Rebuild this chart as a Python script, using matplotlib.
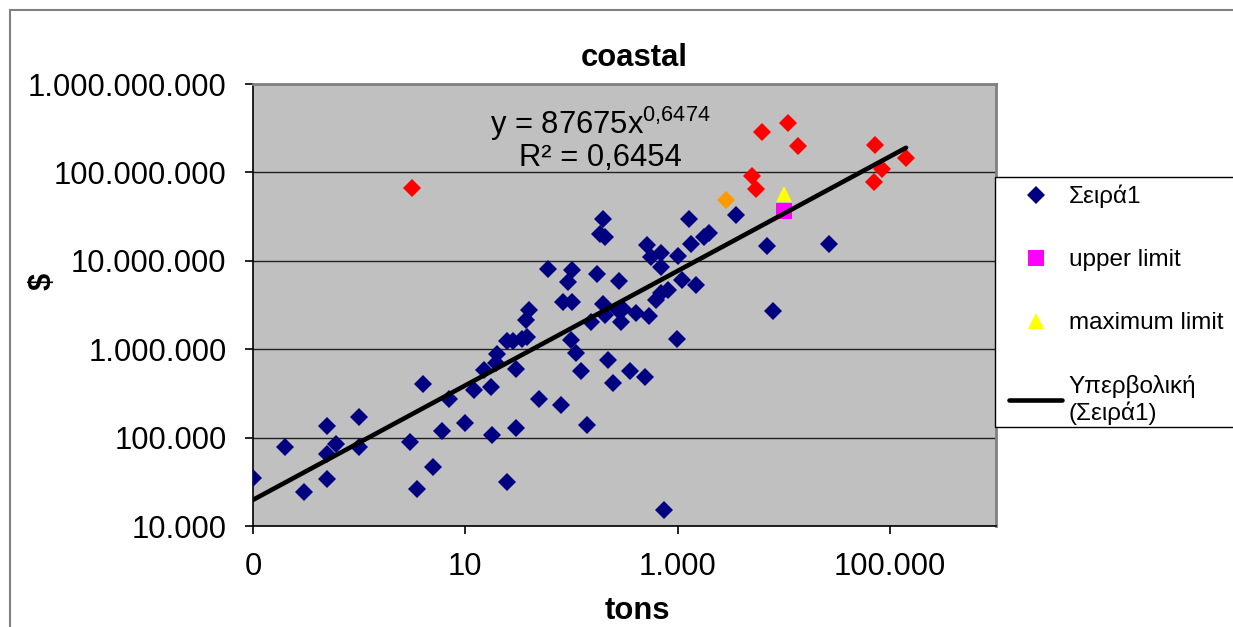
import numpy as np
import matplotlib
matplotlib.use("Agg")
import matplotlib.pyplot as plt
from matplotlib.patches import Rectangle

plt.rcParams['font.family'] = ['Liberation Sans', 'DejaVu Sans']
plt.rcParams['mathtext.fontset'] = 'custom'
plt.rcParams['mathtext.rm'] = 'Liberation Sans'
plt.rcParams['mathtext.default'] = 'regular'

# Σειρά1 (blue diamonds): tons, $
tons_blue = [0.1, 0.2, 0.30, 0.5, 0.5, 0.5, 0.6, 1.0, 1.0, 3.0, 3.5, 4.0, 5.0, 6.0, 7.0,
             10, 12, 15, 17.6, 18, 19.5, 20, 24.9, 24.5, 28, 30, 30, 34.4, 38, 37, 39.7,
             49, 60, 79, 83, 93, 101, 102, 99.6, 111, 124, 140, 154, 175, 197, 184, 205,
             197, 205, 219, 249, 279, 273, 305, 294, 407, 535, 357, 498, 740, 984, 514,
             563, 700, 700, 1000, 628, 700, 807, 1100, 1270, 1340, 1490, 1790, 1990,
             3550, 6950, 7850, 26800]
usd_blue = [34600, 78700, 24400, 136000, 65100, 33700, 83800, 172000, 77400, 89700, 26000,
            399000, 46800, 119000, 270000, 147000, 344000, 579000, 372000, 107000, 700000,
            873000, 31700, 1.24e6, 1.24e6, 590000, 130000, 1.29e6, 1.37e6, 2.13e6, 2.81e6,
            270000, 8.17e6, 233000, 3.42e6, 5.75e6, 7.81e6, 3.42e6, 1.27e6, 902000, 569000,
            138000, 2.03e6, 7.03e6, 3.0e7, 2.03e7, 1.86e7, 3.22e6, 2.42e6, 760000, 416000,
            5.92e6, 2.76e6, 2.88e6, 2.03e6, 2.58e6, 2.36e6, 569000, 487000, 15200, 1.29e6,
            1.50e7, 1.10e7, 1.22e7, 8.51e6, 1.12e7, 3.58e6, 4.35e6, 4.73e6, 6.13e6, 3.0e7,
            1.55e7, 5.28e6, 1.86e7, 2.06e7, 3.27e7, 1.46e7, 2.71e6, 1.54e7]

# highlighted points of Σειρά1
tons_red = [3.18, 5020, 5480, 6190, 10900, 13500, 72600, 84000, 71400, 142000]
usd_red = [6.71e7, 9.02e7, 6.55e7, 2.85e8, 3.61e8, 1.97e8, 2.02e8, 1.10e8, 7.77e7, 1.47e8]
tons_orange = [2860]
usd_orange = [4.92e7]

tons_upper = [10000]
usd_upper = [3.66e7]
tons_max = [10000]
usd_max = [5.74e7]

# power trendline y = a * x^b
trend_a = 87675
trend_b = 0.6474
trend_x = [0.1, 142000]

x_ticks = [0.1, 10, 1000, 100000]
x_labels = ['0', '10', '1.000', '100.000']
y_ticks = [1e4, 1e5, 1e6, 1e7, 1e8, 1e9]
y_labels = ['10.000', '100.000', '1.000.000', '10.000.000', '100.000.000', '1.000.000.000']

FS = 22.3

W, H = 1233, 627
fig = plt.figure(figsize=(W / 100, H / 100), dpi=100)
fig.patch.set_facecolor('white')
# outer chart frame (runs off the right and bottom edges)
fig.patches.append(Rectangle((10 / W, -0.1), 1.2, 1 - 10 / H + 0.1, transform=fig.transFigure,
                             fill=False, edgecolor='#808080', lw=1.5))

ax = fig.add_axes([253 / W, (H - 526) / H, (996 - 253) / W, (526 - 84) / H])
ax.set_facecolor('#C0C0C0')
ax.set_xscale('log')
ax.set_yscale('log')
ax.set_xlim(0.1, 1e6)
ax.set_ylim(1e4, 1e9)

ax.set_yticks(y_ticks)
ax.set_yticklabels(y_labels)
ax.set_xticks(x_ticks)
ax.set_xticklabels(x_labels)
ax.minorticks_off()
ax.tick_params(axis='both', labelsize=FS, length=6, width=1.2, direction='out', pad=13)
ax.yaxis.grid(True, color='#202020', lw=1)
ax.set_axisbelow(True)

for s in ['top', 'right']:
    ax.spines[s].set_color('#808080')
    ax.spines[s].set_linewidth(2)
for s in ['left', 'bottom']:
    ax.spines[s].set_color('black')
    ax.spines[s].set_linewidth(1.2)

tx = np.array(trend_x)
ax.plot(tx, trend_a * tx ** trend_b, color='black', lw=3.3, solid_capstyle='round', zorder=4,
        label='Υπερβολική\n(Σειρά1)')

ax.plot(tons_blue, usd_blue, ls='', marker='D', ms=9.5, color='#000080', mew=0, zorder=3,
        label='Σειρά1')
ax.plot(tons_red, usd_red, ls='', marker='D', ms=9, color='#FF0000', mew=0, zorder=3)
ax.plot(tons_orange, usd_orange, ls='', marker='D', ms=9, color='#FF9900', mew=0, zorder=3)
ax.plot(tons_upper, usd_upper, ls='', marker='s', ms=11.5, color='#FF00FF', mew=0, zorder=3,
        label='upper limit')
ax.plot(tons_max, usd_max, ls='', marker='^', ms=12, color='#FFFF00', mew=0, zorder=3,
        label='maximum limit')

fig.text(600 / W, 1 - 124 / H, r'y = 87675x$^{0{,}6474}$', ha='center', va='center', fontsize=FS)
fig.text(600 / W, 1 - 158 / H, 'R² = 0,6454', ha='center', va='center', fontsize=FS)

fig.text(634 / W, 1 - 58 / H, 'coastal', ha='center', va='center', fontsize=FS, fontweight='bold')
fig.text(637 / W, 1 - 611 / H, 'tons', ha='center', va='center', fontsize=FS, fontweight='bold')
fig.text(43 / W, 1 - 281 / H, r'\$', ha='center', va='center', rotation=90, fontsize=FS,
         fontweight='bold')

# legend box: left/top/bottom edges visible, right edge off the canvas
fig.patches.append(Rectangle((995 / W, 1 - 427 / H), 300 / W, 250 / H, transform=fig.transFigure,
                             facecolor='white', edgecolor='black', lw=1, zorder=5))
handles, labels = ax.get_legend_handles_labels()
order = [1, 2, 3, 0]
leg = fig.legend([handles[i] for i in order], [labels[i] for i in order],
                 loc='upper left', bbox_to_anchor=(1009 / W, 1 - 185 / H),
                 bbox_transform=fig.transFigure, fontsize=17.5, frameon=False,
                 labelspacing=1.68, handlelength=2.2, handletextpad=0.25, borderpad=0,
                 borderaxespad=0)
leg.set_zorder(6)

fig.savefig('out.png', dpi=100)
